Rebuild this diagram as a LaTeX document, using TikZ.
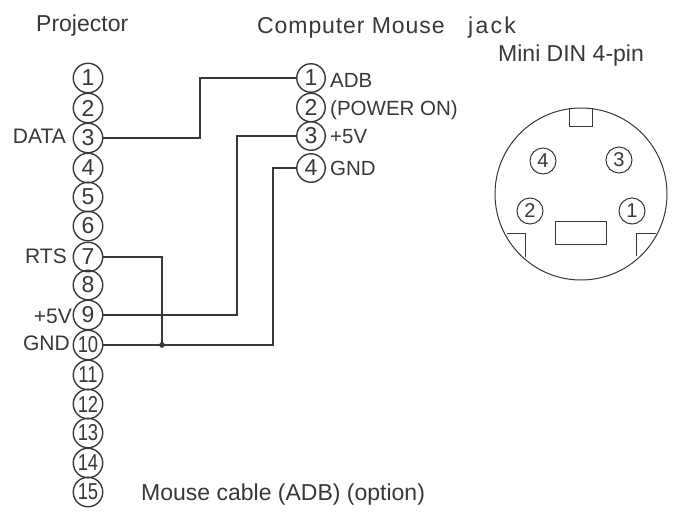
\documentclass[tikz,border=0pt]{standalone}
\usepackage{fontspec}
\setmainfont{Liberation Sans}
\definecolor{ink}{gray}{0.22}
\tikzset{
  x=1pt,y=-1pt,
  pinbase/.style={circle,draw=ink,inner sep=0pt,text=ink},
  pin/.style={pinbase,line width=1.4pt,minimum size=29.5pt,font=\fontsize{23}{23}\selectfont},
  rpin/.style={pinbase,line width=1.4pt,minimum size=28.5pt,font=\fontsize{23}{23}\selectfont},
  dpin/.style={pinbase,line width=1pt,minimum size=26pt,font=\fontsize{20}{20}\selectfont},
  head/.style={inner sep=0pt,font=\fontsize{23}{23}\selectfont,text=ink,anchor=base west},
  lbl/.style={inner sep=0pt,font=\fontsize{20.5}{21}\selectfont,text=ink,anchor=base west},
  lblr/.style={inner sep=0pt,font=\fontsize{21}{21}\selectfont,text=ink,anchor=base east},
  wire/.style={draw=ink,line width=1.2pt},
  body/.style={draw=ink,line width=1pt},
}
\begin{document}
\begin{tikzpicture}
\useasboundingbox (0,0) rectangle (673,512);
\fill[white] (0,0) rectangle (673,512);
% left pins
\foreach \n/\y in {1/78,2/108,3/138,4/168,5/197,6/226,7/257,8/285,9/315}
  \node[pin] (p\n) at (88,\y) {\n};
\foreach \n/\y in {10/345,11/375,12/404,13/433,14/463,15/492}
  \node[pin] (p\n) at (88,\y) {\scalebox{0.8}[1]{\n}};
% right pins
\foreach \n/\y in {1/78,2/107.5,3/136,4/168}
  \node[rpin] (q\n) at (311,\y) {\n};
% wires
\draw[wire] (p3.east) -| (200,78) -- (q1.west);
\draw[wire] (p9.east) -| (237,136) -- (q3.west);
\draw[wire] (p10.east) -| (273,168) -- (q4.west);
\draw[wire] (p7.east) -| (162,345) coordinate (j);
\fill[ink] (j) circle (2.8);
% labels
\node[head] (t1) at (36,31) {Projector};
\node[head] (t2) at (257,33) {\addfontfeature{LetterSpace=4}Computer Mouse};
\node[head] (t3) at (468,33) {\addfontfeature{LetterSpace=10}jack};
\node[head] (t4) at (498,61) {Mini DIN 4-pin};
\node[head] (t5) at (141,500) {Mouse cable (ADB) (option)};
\node[lblr] (a) at (66,143) {DATA};
\node[lblr] (b) at (67,263) {RTS};
\node[lblr] (c) at (72,323) {+5V};
\node[lblr] (d) at (70,350) {GND};
\node[lbl] (e) at (330,87) {ADB};
\node[lbl] (f) at (330,115) {(POWER ON)};
\node[lbl] (g) at (330,143) {+5V};
\node[lbl] (h) at (330,175) {GND};
% DIN connector
\draw[body] (581,194) circle (86);
\draw[body] (569,108) -- (569,126.5) -- (592,126.5) -- (592,108);
\draw[body] (555,221) rectangle (606,244);
\draw[body] (507,233) -- (525,233) -- (525,257);
\draw[body] (656,233) -- (636,233) -- (636,256);
\node[dpin] (d4) at (543,161) {4};
\node[dpin] (d3) at (619,160) {3};
\node[dpin] (d2) at (530,211) {2};
\node[dpin] (d1) at (632,211) {1};
\end{tikzpicture}
\end{document}
